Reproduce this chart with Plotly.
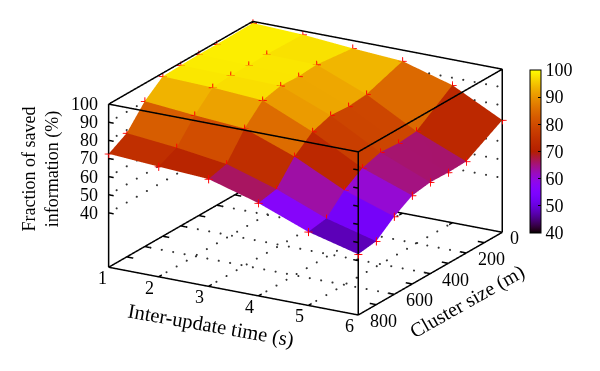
import numpy as np
import plotly.graph_objects as go

update_times = [1, 2, 3, 4, 5, 6]
cluster_sizes = [0, 200, 300, 400, 500, 600, 700, 800]
saved = [  # rows: update time, columns: cluster size
    [99.1, 98.8, 98.9, 98.6, 98.2, 90.2, 78.3, 72.6],
    [98.0, 98.5, 98.2, 98.3, 97.3, 87.7, 75.6, 70.8],
    [95.7, 98.1, 97.3, 97.8, 95.5, 85.7, 71.8, 69.2],
    [93.9, 87.0, 86.0, 86.8, 83.5, 75.5, 63.2, 61.2],
    [85.9, 71.9, 71.0, 71.7, 68.7, 62.2, 52.3, 50.6],
    [71.9, 60.5, 60.1, 60.4, 58.8, 52.9, 45.0, 43.5],
]
x_ticks = [1, 2, 3, 4, 5, 6]
y_minor_ticks = [100, 200, 300, 400, 500, 600, 700]
y_labels = [0, 200, 400, 600, 800]
z_ticks = [40, 50, 60, 70, 80, 90, 100]
XR, YR, ZR = (1, 6), (800, 0), (10, 100)

FONT = "Liberation Serif"
FS = 18

# gnuplot rgbformulae 7,5,15
def pal(t):
    r = np.sqrt(t); g = t ** 3; b = max(np.sin(2 * np.pi * t), 0)
    return f"rgb({int(r*255)},{int(g*255)},{int(b*255)})"
colorscale = [[t, pal(t)] for t in np.linspace(0, 1, 61)]

nx, ny = len(update_times), len(cluster_sizes)
Z = np.array(saved)
vx, vy, vz = [], [], []
for i in range(nx):
    for j in range(ny):
        vx.append(update_times[i]); vy.append(cluster_sizes[j]); vz.append(Z[i, j])
I, J, K, C = [], [], [], []
for i in range(nx - 1):
    for j in range(ny - 1):
        a, b, c, d_ = i*ny+j, i*ny+j+1, (i+1)*ny+j+1, (i+1)*ny+j
        m = (Z[i, j] + Z[i, j+1] + Z[i+1, j+1] + Z[i+1, j]) / 4
        I += [a, a]; J += [b, c]; K += [c, d_]; C += [m, m]

fig = go.Figure()
fig.add_trace(go.Mesh3d(
    x=vx, y=vy, z=vz, i=I, j=J, k=K, intensity=C, intensitymode="cell",
    colorscale=colorscale, cmin=40, cmax=100, flatshading=True,
    lighting=dict(ambient=1, diffuse=0, specular=0, roughness=1, fresnel=0),
    colorbar=dict(x=522/600, xanchor="left", xref="paper", y=(371-225)/371, yanchor="bottom", yref="paper",
                  len=163, lenmode="pixels", thickness=11, thicknessmode="pixels",
                  tickvals=z_ticks, ticks="inside", ticklen=3, tickcolor="black", tickprefix="\u00a0",
                  outlinecolor="black", outlinewidth=1, borderwidth=0, xpad=0, ypad=0,
                  tickfont=dict(family=FONT, size=FS, color="black")),
))

# markers at data points
fig.add_trace(go.Scatter3d(x=vx, y=vy, z=vz, mode="markers",
                           marker=dict(symbol="cross", size=4.5, color="#ff0000"), showlegend=False))

# box
x0, x1 = XR; y0, y1 = YR; z0, z1 = ZR
lx, ly, lz = [], [], []
def seg(a, b):
    lx.extend([a[0], b[0], None]); ly.extend([a[1], b[1], None]); lz.extend([a[2], b[2], None])
for z in (z0, z1):
    seg((x0, y0, z), (x1, y0, z)); seg((x1, y0, z), (x1, y1, z))
    seg((x1, y1, z), (x0, y1, z)); seg((x0, y1, z), (x0, y0, z))
for px in (x0, x1):
    for py in (y0, y1):
        seg((px, py, z0), (px, py, z1))
# ticks
for t in y_minor_ticks:
    seg((x0, t, z0), (x0 + 0.13, t, z0)); seg((x1, t, z0), (x1 - 0.13, t, z0))
for t in x_ticks[1:-1]:
    seg((t, y0, z0), (t, y0 - 18, z0)); seg((t, y1, z0), (t, y1 + 18, z0))
for t in z_ticks:
    seg((x0, y0, t), (x0 + 0.1, y0, t)); seg((x1, y0, t), (x1 - 0.1, y0, t))
fig.add_trace(go.Scatter3d(x=lx, y=ly, z=lz, mode="lines", line=dict(color="black", width=3), showlegend=False))

# dotted grids
dx, dy, dz = [], [], []
xstep, ystep = 0.228, 56
for t in z_ticks[:-1]:
    for p in np.arange(x0 + xstep/2, x1, xstep):
        dx.append(p); dy.append(0); dz.append(t)
    for p in np.arange(ystep/2, 800, ystep):
        dx.append(1); dy.append(p); dz.append(t)
for t in x_ticks[1:-1]:
    for p in np.arange(ystep/2, 800, ystep):
        dx.append(t); dy.append(p); dz.append(z0)
for t in y_labels[1:-1]:
    for p in np.arange(x0 + xstep/2, x1, xstep):
        dx.append(p); dy.append(t); dz.append(z0)
fig.add_trace(go.Scatter3d(x=dx, y=dy, z=dz, mode="markers",
                           marker=dict(symbol="circle", size=1.2, color="#333"), showlegend=False))

# tick labels as scene annotations
ann = []
def label(x, y, z, text, xs, ys, anchor="center"):
    ann.append(dict(x=x, y=y, z=z, text=str(text), showarrow=False, xshift=xs, yshift=ys, xanchor=anchor,
                    font=dict(family=FONT, size=FS, color="black")))
for t in x_ticks:
    label(t, 800, z0, t, -6 if t == 1 else -9, -11)
for t in y_labels:
    label(6, t, z0, t, 25 if t else 12, -6)
for t in z_ticks:
    label(1, 800, t, t, -9, 0, anchor="right")

d = 6
zoom = 1.722
pad = 0.002  # small slack so edges at the limits are not clipped by the scene bounds
def padded(r):
    m = (r[1] - r[0]) * pad
    return [r[0] - m, r[1] + m]
elev, azim = np.radians(18.4), np.radians(-60)
eye = dict(x=d*np.cos(azim)*np.cos(elev), y=d*np.sin(azim)*np.cos(elev), z=d*np.sin(elev))
hidden = dict(visible=False, showgrid=False, zeroline=False, showline=False, showticklabels=False,
              showbackground=False, showspikes=False)
def title(px, py, text, angle, size):
    return dict(x=px/600, y=1-py/371, xref="paper", yref="paper", text=text, textangle=angle, showarrow=False,
                xanchor="center", yanchor="middle", font=dict(family=FONT, size=size, color="black"))
fig.update_layout(
    width=600, height=371, margin=dict(l=0, r=0, t=0, b=0), paper_bgcolor="white", showlegend=False,
    font=dict(family=FONT, size=FS, color="black"),
    scene=dict(
        domain=dict(x=[0.0033, 0.988], y=[0.07, 0.976]),
        xaxis=dict(range=padded(XR), autorange=False, **hidden),
        yaxis=dict(range=padded(YR), autorange=False, **hidden),
        zaxis=dict(range=padded(ZR), autorange=False, **hidden),
        aspectmode="manual", aspectratio=dict(x=zoom, y=zoom, z=0.6*zoom),
        camera=dict(eye=eye, up=dict(x=0, y=0, z=1), center=dict(x=0, y=0, z=-0.106),
                    projection=dict(type="orthographic")),
        annotations=ann,
    ),
    annotations=[
        title(32.5, 161, "Fraction of saved<br>information (%)", -90, 18),
        title(203, 317, "Inter-update time (s)", 10, 20.5),
        title(459, 293, "Cluster size (m)", -29.5, 20),
    ],
)
fig.write_html("out.html", config={"displayModeBar": False})
